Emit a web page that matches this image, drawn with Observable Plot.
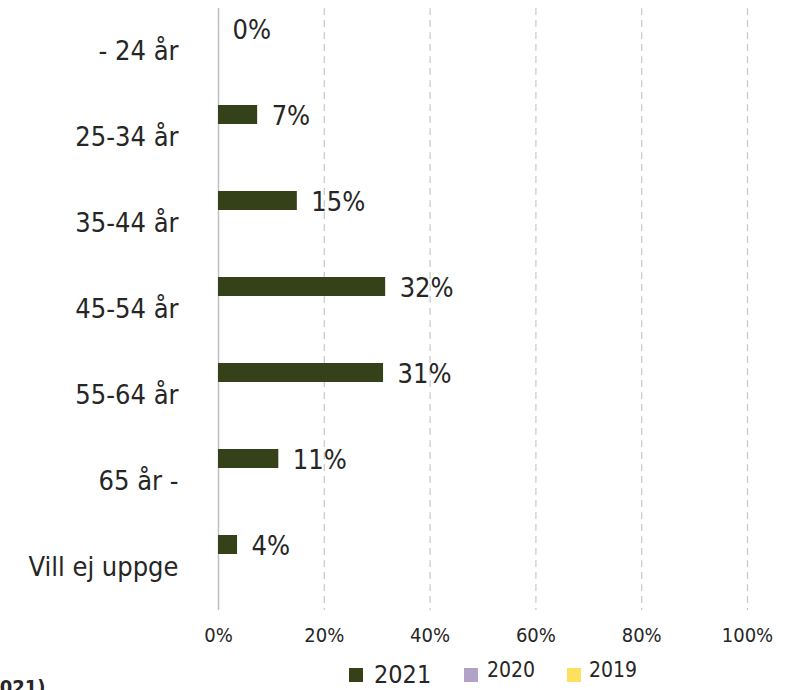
<!DOCTYPE html>
<html><head><meta charset="utf-8">
<script src="https://cdn.jsdelivr.net/npm/d3@7"></script>
<script src="https://cdn.jsdelivr.net/npm/@observablehq/plot@0.6"></script>
<style>
body{margin:0;background:#fff;font-family:"DejaVu Sans Condensed","DejaVu Sans",sans-serif;color:#262626;}
#wrap{position:relative;width:802px;height:690px;overflow:hidden;background:#fff;}
#chart svg{display:block;}
#legend{position:relative;height:35px;}
#legend .sw{position:absolute;width:14px;height:14px;}
#legend .lb{position:absolute;line-height:1;color:#262626;}
#cut{position:absolute;left:-21px;top:677px;font-weight:bold;font-size:20px;line-height:1;color:#262626;white-space:nowrap;}
</style></head><body>
<div id="wrap"><div id="chart"></div><div id="legend"></div><div id="cut">(2021)</div></div>
<script>
const categories = ["- 24 år","25-34 år","35-44 år","45-54 år","55-64 år","65 år -","Vill ej uppge"];
const series = ["2021","2020","2019"];
const values2021 = [0, 7.4, 14.9, 31.6, 31.2, 11.4, 3.6];
const values2020 = [0, 0, 0, 0, 0, 0, 0];
const values2019 = [0, 0, 0, 0, 0, 0, 0];
const colors = ["#344119","#b3a2c7","#fbe15d"];
const xTicks = [0, 20, 40, 60, 80, 100];

const seriesValues = [values2021, values2020, values2019];
const data = [];
series.forEach((s, si) => categories.forEach((c, ci) => data.push({series: s, cat: c, value: seriesValues[si][ci]})));

const insets = {"2021": [11, 56], "2020": [33, 34], "2019": [55, 12]};
const barMarks = series.map((s, i) => Plot.barX(data.filter(d => d.series === s && d.value > 0), {
  x: "value", y: "cat", fill: colors[i], insetTop: insets[s][0], insetBottom: insets[s][1]
}));

const chart = Plot.plot({
  width: 802, height: 655,
  marginLeft: 218, marginRight: 55, marginTop: 8, marginBottom: 45,
  style: {fontFamily: '"DejaVu Sans Condensed","DejaVu Sans",sans-serif', color: "#262626", background: "#fff"},
  x: {domain: [0, 100]},
  y: {domain: categories, padding: 0},
  marks: [
    Plot.ruleX(xTicks.filter(t => t > 0), {stroke: "#c8c8c8", strokeDasharray: "7,5", strokeWidth: 1.2}),
    Plot.ruleX([0], {stroke: "#bfbfbf", strokeWidth: 1.5}),
    ...barMarks,
    Plot.text(data.filter(d => d.series === "2021"), {
      x: "value", y: "cat", text: d => Math.round(d.value) + "%", dx: 14, dy: -21,
      textAnchor: "start", fontSize: 27, fill: "#262626"
    }),
    Plot.axisY({tickSize: 0, tickPadding: 40, fontSize: 27, label: null}),
    Plot.axisX({ticks: xTicks, tickSize: 0, tickPadding: 17, fontSize: 20, tickFormat: d => d + "%", label: null})
  ]
});
document.getElementById("chart").appendChild(chart);

const legend = document.getElementById("legend");
const legendItems = [
  {sw: 349, tx: 374, size: 25, top: 7},
  {sw: 464, tx: 487, size: 21, top: 5},
  {sw: 567, tx: 589, size: 21, top: 5}
];
series.forEach((s, i) => {
  const it = legendItems[i];
  const sw = document.createElement("div");
  sw.className = "sw"; sw.style.left = it.sw + "px"; sw.style.top = "13px"; sw.style.background = colors[i];
  legend.appendChild(sw);
  const lb = document.createElement("div");
  lb.className = "lb"; lb.style.left = it.tx + "px"; lb.style.top = it.top + "px"; lb.style.fontSize = it.size + "px";
  lb.textContent = s;
  legend.appendChild(lb);
});
</script>
</body></html>
